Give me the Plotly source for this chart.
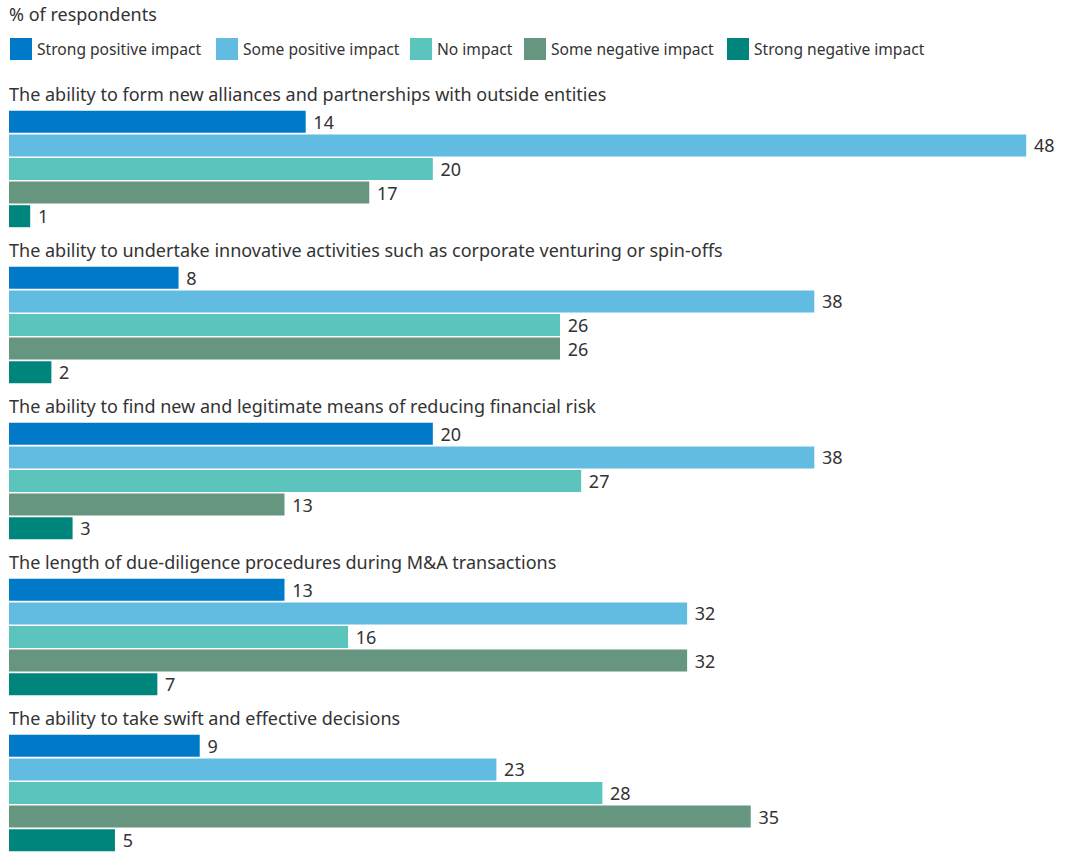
import plotly.graph_objects as go
from plotly.subplots import make_subplots

statements = [
    "The ability to form new alliances and partnerships with outside entities",
    "The ability to undertake innovative activities such as corporate venturing or spin-offs",
    "The ability to find new and legitimate means of reducing financial risk",
    "The length of due-diligence procedures during M&A transactions",
    "The ability to take swift and effective decisions",
]
series_names = ["Strong positive impact", "Some positive impact", "No impact",
                "Some negative impact", "Strong negative impact"]
strong_positive = [14, 8, 20, 13, 9]
some_positive = [48, 38, 38, 32, 23]
no_impact = [20, 26, 27, 16, 28]
some_negative = [17, 26, 13, 32, 35]
strong_negative = [1, 2, 3, 7, 5]
series_values = [strong_positive, some_positive, no_impact, some_negative, strong_negative]
colors = ["#007AC8", "#62BBE0", "#5BC5BD", "#66967F", "#00857D"]

FONT = "Noto Sans"
TXT = "#333333"
W, H = 1066, 852
ML, MR = 9, 8
PW = W - ML - MR

fig = make_subplots(rows=5, cols=1, shared_xaxes=True)

group_top = 110
group_pitch = 156
group_h = 118

for gi, stmt in enumerate(statements):
    row = gi + 1
    for si, name in enumerate(series_names):
        v = series_values[si][gi]
        fig.add_trace(go.Bar(
            x=[v], y=[name], orientation="h",
            marker=dict(color=colors[si], line=dict(width=0)),
            name=name, showlegend=False,
            text=[str(v)], texttemplate="\u00a0%{text}",
            textposition="outside", cliponaxis=False,
            constraintext="none",
            textfont=dict(family=FONT, size=18, color=TXT),
        ), row=row, col=1)
    top = group_top + gi * group_pitch
    bot = min(top + group_h, H)
    yax = "yaxis" if gi == 0 else f"yaxis{row}"
    fig.layout[yax].update(domain=[1 - bot / H, 1 - top / H],
                           categoryorder="array", categoryarray=series_names,
                           autorange="reversed", visible=False, showgrid=False)
    fig.add_annotation(text=stmt, xref="paper", x=0, xanchor="left", xshift=-2,
                       yref=("y domain" if gi == 0 else f"y{row} domain"), y=1,
                       yanchor="bottom", yshift=2, showarrow=False,
                       font=dict(family=FONT, size=18, color=TXT))

for i in range(1, 6):
    xax = "xaxis" if i == 1 else f"xaxis{i}"
    fig.layout[xax].update(range=[0, 49.5], visible=False, showgrid=False, zeroline=False)

# Title
fig.add_annotation(text="% of respondents", xref="paper", x=0, xanchor="left", xshift=-2,
                   yref="paper", y=1 - 14 / H, yanchor="middle", showarrow=False,
                   font=dict(family=FONT, size=18, color=TXT))

# Custom legend
legend_px = [10, 216, 410, 524, 727]
for name, c, px in zip(series_names, colors, legend_px):
    x0 = (px - ML) / PW
    x1 = (px + 22 - ML) / PW
    fig.add_shape(type="rect", xref="paper", yref="paper",
                  x0=x0, x1=x1, y0=1 - 60 / H, y1=1 - 38 / H,
                  fillcolor=c, line=dict(width=0))
    fig.add_annotation(text=name, xref="paper", x=(px + 25 - ML) / PW, xanchor="left",
                       yref="paper", y=1 - 49 / H, yanchor="middle", showarrow=False,
                       font=dict(family=FONT, size=15.6, color=TXT))

fig.update_layout(
    width=W, height=H,
    margin=dict(l=ML, r=MR, t=0, b=0, pad=0),
    paper_bgcolor="white", plot_bgcolor="white",
    barmode="relative", bargap=0.068,
    showlegend=False,
    font=dict(family=FONT, color=TXT),
)

fig.write_html("out.html", config={"displayModeBar": False},
               post_script="document.body.style.margin='0';document.body.style.overflow='hidden';")
